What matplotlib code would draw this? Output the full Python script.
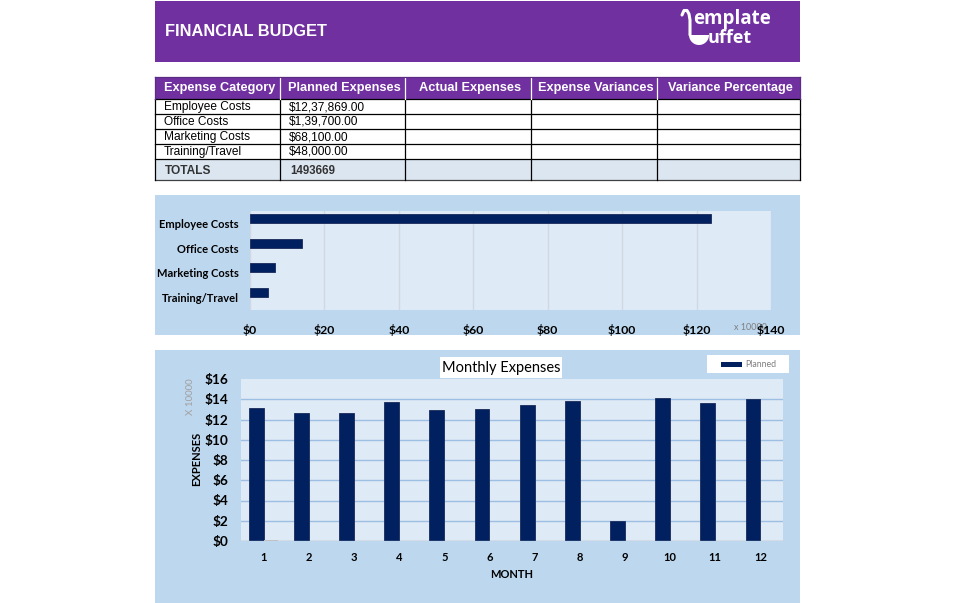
import matplotlib
matplotlib.use("Agg")
import matplotlib.pyplot as plt
from matplotlib.patches import Rectangle, Polygon
import numpy as np

# ---------------- data ----------------
categories = ["Employee Costs", "Office Costs", "Marketing Costs", "Training/Travel"]
planned = [1237869, 139700, 68100, 48000]
planned_labels = ["$12,37,869.00", "$1,39,700.00", "$68,100.00", "$48,000.00"]
total_label = "1493669"
table_headers = ["Expense Category", "Planned Expenses", "Actual Expenses",
                 "Expense Variances", "Variance Percentage"]

bar_ticks = [0, 20, 40, 60, 80, 100, 120, 140]          # x 10000
months = [1, 2, 3, 4, 5, 6, 7, 8, 9, 10, 11, 12]
monthly_planned = [13.1, 12.67, 12.67, 13.77, 12.9, 13.0, 13.47, 13.83, 2.0, 14.1, 13.6, 14.0]  # x 10000
monthly_actual = [0.08, 0, 0, 0, 0, 0, 0, 0, 0, 0, 0, 0]
month_yticks = [0, 2, 4, 6, 8, 10, 12, 14, 16]

# ---------------- style ----------------
W, H, DPI = 955, 603, 100
PURPLE = "#7030A0"
NAVY = "#002060"
OUTER = "#BDD7EE"
INNER = "#DEEAF6"
TOT = "#DCE6F1"
ARIAL = "Liberation Sans"
CAL = "Lato"

fig = plt.figure(figsize=(W / DPI, H / DPI), dpi=DPI)
fig.patch.set_facecolor("white")

bg = fig.add_axes([0, 0, 1, 1])
bg.set_xlim(0, W)
bg.set_ylim(H, 0)
bg.axis("off")


def ax_rect(x0, y0, x1, y1):
    return [x0 / W, 1 - y1 / H, (x1 - x0) / W, (y1 - y0) / H]


# ---------------- header band ----------------
bg.add_patch(Rectangle((155, 1), 645, 61, facecolor=PURPLE, edgecolor="none"))
bg.text(165, 31, "FINANCIAL BUDGET", color="white", fontsize=11.8, fontweight="bold",
        family=ARIAL, va="center", ha="left")
# logo
bg.text(693, 19, "emplate", color="white", fontsize=13.5, fontweight="bold", family="Open Sans",
        va="center", ha="left")
bg.text(708, 38, "uffet", color="white", fontsize=13, fontweight="bold", family="Open Sans",
        va="center", ha="left")
bg.plot([682, 684, 687, 689, 690, 690], [15, 10.5, 10.5, 14, 20, 35], color="white", lw=2.2,
        solid_capstyle="round")
t = np.linspace(0, np.pi, 30)
bx = 699 - 10 * np.cos(t)
by = 35 + 10 * np.sin(t)
bg.add_patch(Polygon(np.column_stack([bx, by]), closed=True, facecolor="white", edgecolor="none"))

# ---------------- table ----------------
col_x = [155, 280, 405, 531, 657, 800]
row_y = [77, 99, 114, 129, 144, 159, 180]

bg.add_patch(Rectangle((155, 77), 645, 22, facecolor=PURPLE, edgecolor="none"))
bg.add_patch(Rectangle((155, 159), 645, 21, facecolor=TOT, edgecolor="none"))
for i, h in enumerate(table_headers):
    x0, x1 = col_x[i], col_x[i + 1]
    clip = Rectangle((x0, 77), x1 - x0, 22, transform=bg.transData, visible=False)
    bg.add_patch(clip)
    tt = bg.text((x0 + x1) / 2 + 2, 88.5, h, color="white", fontsize=9.2, fontweight="bold",
                 family=ARIAL, va="center", ha="center")
    tt.set_clip_path(clip)

for r, (c, v) in enumerate(zip(categories, planned_labels)):
    yc = (row_y[r + 1] + row_y[r + 2]) / 2 + 0.5
    bg.text(164, yc, c, fontsize=8.6, family=ARIAL, va="center", ha="left", color="black")
    bg.text(289, yc, v, fontsize=8.6, family=ARIAL, va="center", ha="left", color="black")

bg.text(165, 171.5, "TOTALS", fontsize=8.6, fontweight="bold", family=ARIAL, va="center",
        ha="left", color="#333333")
bg.text(290, 171.5, total_label, fontsize=8.3, fontweight="bold", family=ARIAL, va="center",
        ha="left", color="#333333")

# grid lines of the table
for y in row_y[1:6]:
    bg.plot([155, 800], [y, y], color="black", lw=0.9)
bg.plot([155, 800], [180, 180], color="#404040", lw=0.9)
for x in col_x:
    bg.plot([x, x], [99, 180], color="black", lw=0.9)
for x in col_x[1:-1]:
    bg.plot([x, x], [77, 99], color="white", lw=0.9)
bg.plot([155, 800], [77, 77], color="#5B2C86", lw=0.9)
bg.plot([155, 155], [77, 99], color="#5B2C86", lw=0.9)
bg.plot([799.5, 799.5], [77, 99], color="#5B2C86", lw=0.9)

# ---------------- chart 1 background ----------------
bg.add_patch(Rectangle((155, 195), 645, 140, facecolor=OUTER, edgecolor="none"))
bg.text(750, 327.5, "x 10000", fontsize=6.5, color="#7F7F7F", family=CAL, va="center", ha="center")

ax1 = fig.add_axes(ax_rect(250, 211, 771, 310))
ax1.set_facecolor(INNER)
ypos = np.arange(len(categories))
vals1 = [p / 10000 for p in planned]
ax1.barh(ypos - 0.2, vals1, height=0.36, color=NAVY, edgecolor="#1A2A5A", lw=0.6, zorder=3)
ax1.set_xlim(bar_ticks[0], bar_ticks[-1])
ax1.set_ylim(len(categories) - 0.5, -0.5)
ax1.set_xticks(bar_ticks)
ax1.set_xticklabels([f"${v}" for v in bar_ticks], fontsize=8.8, fontweight="bold", family=CAL)
ax1.set_yticks(ypos)
ax1.set_yticklabels(categories, fontsize=8, fontweight="bold", family=CAL)
ax1.tick_params(axis="x", length=0, pad=10)
ax1.tick_params(axis="y", length=0, pad=8)
ax1.grid(axis="x", color="#D0D8E2", lw=1, zorder=0)
for s in ax1.spines.values():
    s.set_visible(False)

# ---------------- chart 2 background ----------------
bg.add_patch(Rectangle((155, 350), 645, 253, facecolor=OUTER, edgecolor="none"))
bg.add_patch(Rectangle((440, 357), 122, 21, facecolor="white", edgecolor="none"))
bg.text(501, 368, "Monthly Expenses", fontsize=10.5, family=CAL, va="center", ha="center",
        color="black")
bg.add_patch(Rectangle((707, 355), 82, 18, facecolor="white", edgecolor="none"))
bg.add_patch(Rectangle((721, 362), 21, 5, facecolor=NAVY, edgecolor="none"))
bg.text(745, 364.5, "Planned", fontsize=6.3, family=CAL, va="center", ha="left", color="#7F7F7F")
bg.text(190, 397, "X 10000", fontsize=7, family=CAL, va="center", ha="center", color="#A0A0A0",
        rotation=90)
bg.text(197, 459, "EXPENSES", fontsize=8, fontweight="bold", family=CAL, va="center",
        ha="center", rotation=90)
bg.text(512, 574, "MONTH", fontsize=8, fontweight="bold", family=CAL, va="center", ha="center")

ax2 = fig.add_axes(ax_rect(241, 379, 783, 541))
ax2.set_facecolor(INNER)
mx = np.array(months)
for yv in month_yticks[1:-1]:
    ax2.axhline(yv, color="#9DBFE3", lw=1, zorder=0)
ax2.bar(mx - 0.165, monthly_planned, width=0.33, color=NAVY, edgecolor="#1A2A5A", lw=0.6, zorder=3)
ax2.bar(mx + 0.165, monthly_actual, width=0.33, color="#C8C8C8", edgecolor="none", zorder=3)
ax2.set_xlim(0.5, 12.5)
ax2.set_ylim(month_yticks[0], month_yticks[-1])
ax2.set_xticks(mx)
ax2.set_xticklabels([str(m) for m in months], fontsize=8, fontweight="bold", family=CAL)
ax2.set_yticks(month_yticks)
ax2.set_yticklabels([f"${v}" for v in month_yticks], fontsize=9.8, fontweight="bold", family=CAL)
ax2.tick_params(axis="x", length=0, pad=8)
ax2.tick_params(axis="y", length=0, pad=9)
for s in ax2.spines.values():
    s.set_visible(False)
ax2.axhline(0, color="#A6A6A6", lw=1, zorder=4)

fig.savefig("out.png", dpi=DPI, facecolor="white")
